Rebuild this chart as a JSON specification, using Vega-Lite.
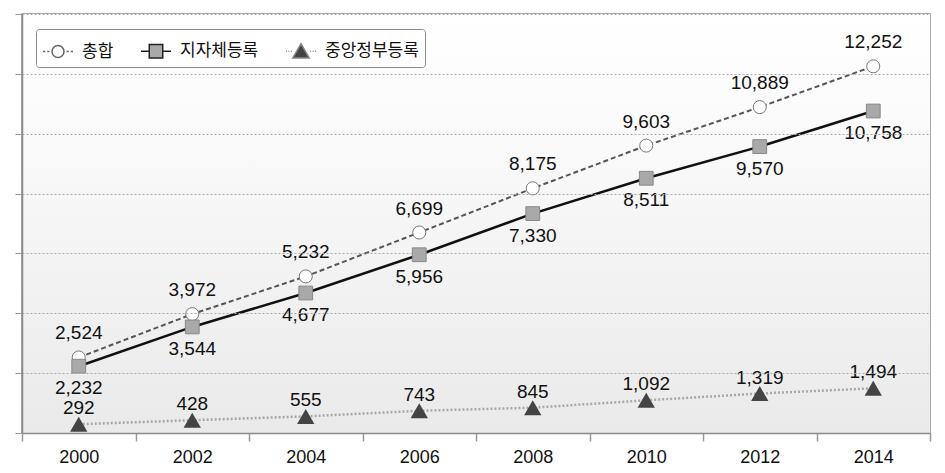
{
  "$schema": "https://vega.github.io/schema/vega-lite/v6.json",
  "width": 908,
  "height": 419,
  "autosize": {"type": "none"},
  "padding": {"left": 22, "top": 14, "right": 15, "bottom": 40},
  "background": "#ffffff",
  "config": {
    "view": {"stroke": "#8a8a8a", "strokeWidth": 1.5},
    "font": "Liberation Sans",
    "text": {"font": "Liberation Sans", "fontSize": 19, "fill": "#111111"}
  },
  "datasets": {
    "bg": [{"lo": 0, "hi": 14000}],
    "main": [
      {"year": "2000", "series": "총합", "value": 2524},
      {"year": "2002", "series": "총합", "value": 3972},
      {"year": "2004", "series": "총합", "value": 5232},
      {"year": "2006", "series": "총합", "value": 6699},
      {"year": "2008", "series": "총합", "value": 8175},
      {"year": "2010", "series": "총합", "value": 9603},
      {"year": "2012", "series": "총합", "value": 10889},
      {"year": "2014", "series": "총합", "value": 12252},
      {"year": "2000", "series": "지자체등록", "value": 2232},
      {"year": "2002", "series": "지자체등록", "value": 3544},
      {"year": "2004", "series": "지자체등록", "value": 4677},
      {"year": "2006", "series": "지자체등록", "value": 5956},
      {"year": "2008", "series": "지자체등록", "value": 7330},
      {"year": "2010", "series": "지자체등록", "value": 8511},
      {"year": "2012", "series": "지자체등록", "value": 9570},
      {"year": "2014", "series": "지자체등록", "value": 10758},
      {"year": "2000", "series": "중앙정부등록", "value": 292},
      {"year": "2002", "series": "중앙정부등록", "value": 428},
      {"year": "2004", "series": "중앙정부등록", "value": 555},
      {"year": "2006", "series": "중앙정부등록", "value": 743},
      {"year": "2008", "series": "중앙정부등록", "value": 845},
      {"year": "2010", "series": "중앙정부등록", "value": 1092},
      {"year": "2012", "series": "중앙정부등록", "value": 1319},
      {"year": "2014", "series": "중앙정부등록", "value": 1494}
    ]
  },
  "layer": [
    {
      "data": {"name": "bg"},
      "mark": {
        "type": "rect",
        "color": {
          "gradient": "linear", "x1": 0, "y1": 0, "x2": 0, "y2": 1,
          "stops": [
            {"offset": 0, "color": "#ffffff"},
            {"offset": 0.25, "color": "#fbfbfb"},
            {"offset": 1, "color": "#eaeaea"}
          ]
        }
      },
      "encoding": {
        "y": {
          "field": "lo", "type": "quantitative",
          "scale": {"domain": [0, 14000], "nice": false},
          "axis": {
            "title": null, "labels": false, "values": [0, 2000, 4000, 6000, 8000, 10000, 12000, 14000],
            "tickSize": 7, "tickColor": "#999999", "domainColor": "#8a8a8a", "domainWidth": 1.5,
            "grid": true, "gridColor": "#aaaaaa", "gridDash": [2, 2], "gridWidth": 1, "zindex": 1
          }
        },
        "y2": {"field": "hi"}
      }
    },
    {
      "data": {"name": "main"},
      "encoding": {
        "x": {
          "field": "year", "type": "ordinal",
          "scale": {"type": "band", "paddingInner": 0, "paddingOuter": 0},
          "axis": {
            "title": null, "labelAngle": 0, "labelFontSize": 18, "labelColor": "#111111", "labelFont": "Liberation Sans",
            "tickBand": "extent", "tickSize": 8, "tickColor": "#999999", "tickWidth": 1.5,
            "domainColor": "#8a8a8a", "domainWidth": 1.5, "labelPadding": 7, "grid": false, "zindex": 1
          }
        },
        "y": {"field": "value", "type": "quantitative"}
      },
      "layer": [
        {
          "mark": {"type": "point", "opacity": 0, "filled": true},
          "encoding": {
            "shape": {
              "field": "series", "type": "nominal",
              "scale": {
                "domain": ["총합", "지자체등록", "중앙정부등록"],
                "range": [
                  "M-1,0L-0.85,0M-0.72,0L-0.57,0M-0.4,0A0.4,0.4 0 1 1 0.4,0A0.4,0.4 0 1 1 -0.4,0ZM0.57,0L0.72,0M0.85,0L1,0",
                  "M-1,0L-0.45,0M-0.45,-0.45L0.45,-0.45L0.45,0.45L-0.45,0.45ZM0.45,0L1,0",
                  "M-1,0L-0.94,0M-0.84,0L-0.78,0M-0.68,0L-0.62,0M0,-0.5L0.55,0.45L-0.55,0.45ZM0.62,0L0.68,0M0.78,0L0.84,0M0.94,0L1,0"
                ]
              },
              "legend": {
                "title": null, "orient": "none", "legendX": 14, "legendY": 15, "direction": "horizontal",
                "symbolSize": 900, "symbolOpacity": 1, "symbolStrokeWidth": 1.5,
                "labelFont": "Noto Sans CJK KR", "labelFontSize": 17, "labelColor": "#111111", "labelOffset": 8,
                "columnPadding": 24, "padding": 6, "strokeColor": "#8a8a8a", "fillColor": "#ffffff", "cornerRadius": 3
              }
            },
            "fill": {
              "field": "series", "type": "nominal",
              "scale": {"domain": ["총합", "지자체등록", "중앙정부등록"], "range": ["#ffffff", "#a9a9a9", "#444444"]},
              "legend": {
                "title": null, "orient": "none", "legendX": 14, "legendY": 15, "direction": "horizontal",
                "symbolSize": 900, "symbolOpacity": 1, "symbolStrokeWidth": 1.5,
                "labelFont": "Noto Sans CJK KR", "labelFontSize": 17, "labelColor": "#111111", "labelOffset": 8,
                "columnPadding": 24, "padding": 6, "strokeColor": "#8a8a8a", "fillColor": "#ffffff", "cornerRadius": 3
              }
            },
            "stroke": {
              "field": "series", "type": "nominal",
              "scale": {"domain": ["총합", "지자체등록", "중앙정부등록"], "range": ["#666666", "#222222", "#888888"]},
              "legend": {
                "title": null, "orient": "none", "legendX": 14, "legendY": 15, "direction": "horizontal",
                "symbolSize": 900, "symbolOpacity": 1, "symbolStrokeWidth": 1.5,
                "labelFont": "Noto Sans CJK KR", "labelFontSize": 17, "labelColor": "#111111", "labelOffset": 8,
                "columnPadding": 24, "padding": 6, "strokeColor": "#8a8a8a", "fillColor": "#ffffff", "cornerRadius": 3
              }
            }
          }
        },
        {
          "transform": [{"filter": "datum.series === '중앙정부등록'"}],
          "mark": {"type": "line", "stroke": "#a8a8a8", "strokeWidth": 2.5, "strokeDash": [2, 2]},
          "encoding": {}
        },
        {
          "transform": [{"filter": "datum.series === '총합'"}],
          "mark": {"type": "line", "stroke": "#555555", "strokeWidth": 2, "strokeDash": [5, 3]},
          "encoding": {}
        },
        {
          "transform": [{"filter": "datum.series === '지자체등록'"}],
          "mark": {"type": "line", "stroke": "#111111", "strokeWidth": 2.5},
          "encoding": {}
        },
        {
          "transform": [{"filter": "datum.series === '총합'"}],
          "mark": {"type": "point", "shape": "circle", "size": 170, "filled": true, "fill": "#ffffff", "stroke": "#777777", "strokeWidth": 1, "opacity": 1, "zindex": 2}
        },
        {
          "transform": [{"filter": "datum.series === '지자체등록'"}],
          "mark": {"type": "point", "shape": "square", "size": 190, "filled": true, "fill": "#a9a9a9", "stroke": "#888888", "strokeWidth": 1, "opacity": 1, "zindex": 2}
        },
        {
          "transform": [{"filter": "datum.series === '중앙정부등록'"}],
          "mark": {"type": "point", "shape": "triangle-up", "size": 300, "filled": true, "fill": "#444444", "strokeWidth": 0, "opacity": 1, "zindex": 2}
        },
        {
          "transform": [{"filter": "datum.series === '총합'"}],
          "mark": {"type": "text", "baseline": "bottom", "dy": -14, "zindex": 2},
          "encoding": {"text": {"field": "value", "type": "quantitative", "format": ","}}
        },
        {
          "transform": [{"filter": "datum.series === '지자체등록'"}],
          "mark": {"type": "text", "baseline": "top", "dy": 13, "zindex": 2},
          "encoding": {"text": {"field": "value", "type": "quantitative", "format": ","}}
        },
        {
          "transform": [{"filter": "datum.series === '중앙정부등록'"}],
          "mark": {"type": "text", "baseline": "bottom", "dy": -6, "zindex": 2},
          "encoding": {"text": {"field": "value", "type": "quantitative", "format": ","}}
        }
      ]
    }
  ]
}
